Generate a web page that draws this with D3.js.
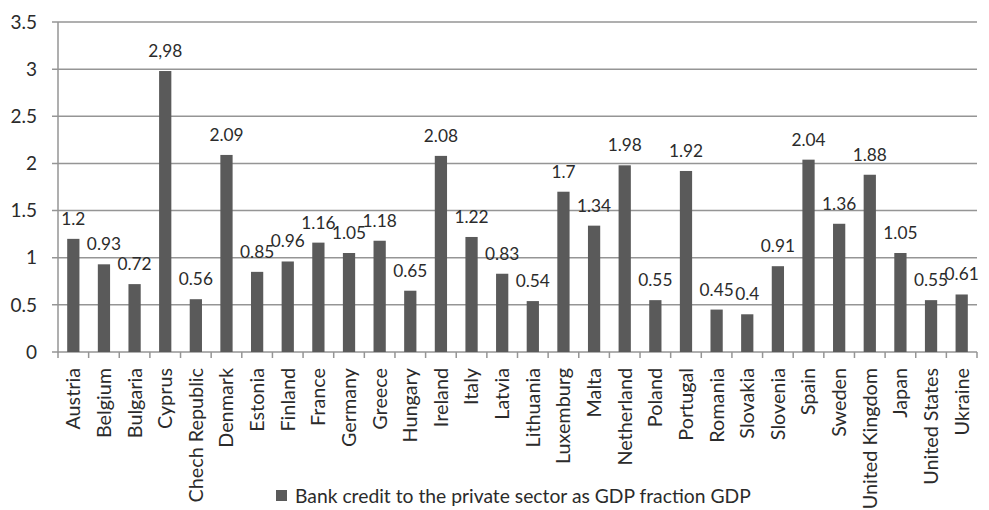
<!DOCTYPE html>
<html>
<head>
<meta charset="utf-8">
<script src="https://cdn.jsdelivr.net/npm/d3@7"></script>
<style>
  html, body { margin: 0; padding: 0; background: #fff; }
  svg text { font-family: Lato, "Open Sans", sans-serif; fill: #2b2b2b; }
</style>
</head>
<body>
<svg id="chart" width="989" height="510"></svg>
<script>
// Bank credit to the private sector, as a fraction of GDP
const countries = ["Austria", "Belgium", "Bulgaria", "Cyprus", "Chech Republic", "Denmark",
  "Estonia", "Finland", "France", "Germany", "Greece", "Hungary", "Ireland", "Italy",
  "Latvia", "Lithuania", "Luxemburg", "Malta", "Netherland", "Poland", "Portugal",
  "Romania", "Slovakia", "Slovenia", "Spain", "Sweden", "United Kingdom", "Japan",
  "United States", "Ukraine"];
const creditValues = [1.2, 0.93, 0.72, 2.98, 0.56, 2.09, 0.85, 0.96, 1.16, 1.05, 1.18, 0.65,
  2.08, 1.22, 0.83, 0.54, 1.7, 1.34, 1.98, 0.55, 1.92, 0.45, 0.4, 0.91, 2.04, 1.36, 1.88,
  1.05, 0.55, 0.61];
// Value labels as printed above each bar
const valueLabels = ["1.2", "0.93", "0.72", "2,98", "0.56", "2.09", "0.85", "0.96", "1.16",
  "1.05", "1.18", "0.65", "2.08", "1.22", "0.83", "0.54", "1.7", "1.34", "1.98", "0.55",
  "1.92", "0.45", "0.4", "0.91", "2.04", "1.36", "1.88", "1.05", "0.55", "0.61"];
const yTicks = [0, 0.5, 1, 1.5, 2, 2.5, 3, 3.5];
const yTickLabels = ["0", "0.5", "1", "1.5", "2", "2.5", "3", "3.5"];
const seriesName = "Bank credit to the private sector as GDP fraction GDP";

const svg = d3.select("#chart");
const plotLeft = 58, plotRight = 977, plotTop = 22, plotBottom = 352;
const barColor = "#5a5a5a", gridColor = "#959595";

const x = d3.scaleBand().domain(countries).range([plotLeft, plotRight]).paddingInner(0.6).paddingOuter(0.3);
const xEdges = d3.scaleBand().domain(countries).range([plotLeft, plotRight]);
const y = d3.scaleLinear().domain([0, 3.5]).range([plotBottom, plotTop]);

// horizontal gridlines with short ticks left of the axis
svg.append("g").selectAll("line").data(yTicks).join("line")
  .attr("x1", plotLeft - 6).attr("x2", plotRight)
  .attr("y1", d => y(d)).attr("y2", d => y(d))
  .attr("stroke", gridColor).attr("stroke-width", 1.5);

// y axis line
svg.append("line").attr("x1", plotLeft).attr("x2", plotLeft).attr("y1", y(3.5)).attr("y2", plotBottom + 0.5)
  .attr("stroke", gridColor).attr("stroke-width", 1.5);

// y tick labels
svg.append("g").selectAll("text").data(yTicks).join("text")
  .attr("x", 37).attr("y", d => y(d)).attr("dy", "0.35em")
  .attr("text-anchor", "end").attr("font-size", 19)
  .text((d, i) => yTickLabels[i]);

// x tick marks at category boundaries
const edges = countries.map(c => xEdges(c)).concat([plotRight]);
svg.append("g").selectAll("line").data(edges).join("line")
  .attr("x1", d => d).attr("x2", d => d).attr("y1", plotBottom).attr("y2", plotBottom + 6)
  .attr("stroke", gridColor).attr("stroke-width", 1.5);

// bars
svg.append("g").selectAll("rect").data(creditValues).join("rect")
  .attr("x", (d, i) => x(countries[i]))
  .attr("width", x.bandwidth())
  .attr("y", d => y(d))
  .attr("height", d => plotBottom - y(d))
  .attr("fill", barColor);

// value labels
svg.append("g").selectAll("text").data(creditValues).join("text")
  .attr("x", (d, i) => x(countries[i]) + x.bandwidth() / 2)
  .attr("y", d => y(d) - 14)
  .attr("text-anchor", "middle").attr("font-size", 17.3)
  .text((d, i) => valueLabels[i]);

// category labels, rotated
svg.append("g").selectAll("text").data(countries).join("text")
  .attr("transform", d => `translate(${xEdges(d) + xEdges.bandwidth() / 2},${plotBottom + 16}) rotate(-90)`)
  .attr("dy", "0.35em").attr("text-anchor", "end").attr("font-size", 19.8)
  .text(d => d);

// legend
const legend = svg.append("g");
legend.append("rect").attr("x", 276).attr("y", 490).attr("width", 11).attr("height", 11).attr("fill", barColor);
legend.append("text").attr("x", 295).attr("y", 496).attr("dy", "0.35em").attr("font-size", 19.3).text(seriesName);
</script>
</body>
</html>
